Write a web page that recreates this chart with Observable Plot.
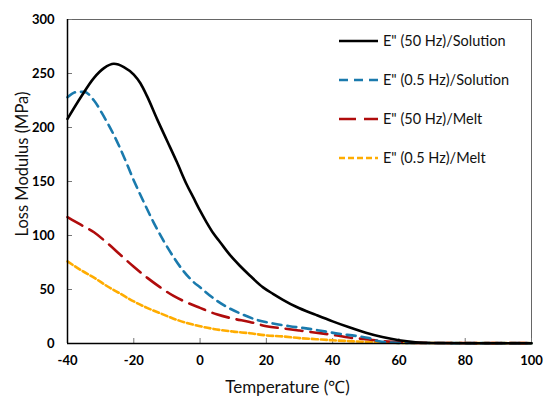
<!DOCTYPE html>
<html>
<head>
<meta charset="utf-8">
<script src="https://cdn.jsdelivr.net/npm/d3@7"></script>
<script src="https://cdn.jsdelivr.net/npm/@observablehq/plot@0.6"></script>
<style>
  body { margin: 0; background: #fff; }
  #wrap { position: relative; width: 544px; height: 400px; font-family: Lato, "Open Sans", sans-serif; }
  #legend { position: absolute; left: 339px; top: 21px; }
  .row { display: flex; align-items: center; height: 39px; font-size: 14.5px; color: #111; }
  .row svg { margin-right: 5px; }
  #ylab { position: absolute; left: 22px; top: 164px; transform: translate(-50%, -50%) rotate(-90deg);
          white-space: nowrap; font-size: 16.5px; color: #111; line-height: 1; }
</style>
</head>
<body>
<div id="wrap"></div>
<script>
// Temperature (°C) sample points per series and Loss Modulus (MPa) values
const blackT = [-40,-36,-32,-29,-26,-23,-20,-18,-16,-13,-10,-7,-4,-2,0,2,4,6,9,12,15,19,22,25,29,35,40,45,50,55,60,65,70,80,100];
const blackV = [208,228,246,255,259,256,249,241,229,208,188,168,147,135,123,112,102,94,82,72,63,52,46,40.5,34,26.5,20.5,15,10,6,3,1.2,0.5,0.3,0.2];

const blueT = [-40,-37,-35,-32,-29,-26,-23,-20,-17,-14,-11,-8,-5,-2,0,4,8,12,17,22,27,32,37,42,47,51,54,57,60,100];
const blueV = [228,233,233,225,210,193,173,151,131,112,95,80,67,57,52,42,34,28,22,18.5,16,14,11.5,9,7,5,2,1,0.5,0.3];

const redT = [-40,-36,-32,-28,-24,-20,-16,-12,-8,-4,0,5,10,15,20,25,30,35,40,45,50,55,60,70,100];
const redV = [117,110,103,93,82,71,61,52,44,38,33,27,23,20,16,14,12,10,8,5.5,4,2.3,1.2,0.5,0.3];

const yellowT = [-40,-36,-32,-28,-24,-20,-16,-12,-8,-4,0,5,10,15,20,25,30,35,40,45,50,55,60,100];
const yellowV = [76,68,61,53,46,39,33,28,23,19,16,13,11,9.5,7.5,6.5,5,4,3,2.2,1.5,1,0.6,0.3];

const seriesNames = ['E" (50 Hz)/Solution', 'E" (0.5 Hz)/Solution', 'E" (50 Hz)/Melt', 'E" (0.5 Hz)/Melt'];
const seriesColors = ["#000000", "#1a7aad", "#b00c0c", "#ffac00"];
const seriesDash = [null, "9,6", "17,8", "6,3"];

const xTicks = [-40,-20,0,20,40,60,80,100];
const yTicks = [0,50,100,150,200,250,300];
const xLabel = "Temperature (\u2103)";
const yLabel = "Loss Modulus (MPa)";

const seriesData = [[blackT, blackV], [blueT, blueV], [redT, redV], [yellowT, yellowV]]
  .map(([T, V], i) => T.map((t, j) => ({t, v: V[j], s: seriesNames[i]})));

const W = 544, H = 400, mT = 19, mB = 57, mL = 67, mR = 13;
const plotH = H - mT - mB, plotW = W - mL - mR;

const lines = seriesData.map((d, i) => Plot.line(d, {
  x: "t", y: "v", stroke: seriesColors[i], strokeWidth: 2.6,
  strokeDasharray: seriesDash[i], curve: "monotone-x"
}));

const chart = Plot.plot({
  width: W, height: H,
  marginTop: mT, marginBottom: mB, marginLeft: mL, marginRight: mR,
  style: {fontFamily: "Lato, 'Open Sans', sans-serif", background: "#fff"},
  x: {domain: [-40, 100], ticks: xTicks},
  y: {domain: [0, 300], ticks: yTicks},
  marks: [
    Plot.frame({stroke: "#666", strokeWidth: 1}),
    Plot.ruleX(xTicks, {x: d => d, insetTop: plotH - 5, stroke: "#777"}),
    Plot.ruleY(yTicks, {y: d => d, insetRight: plotW - 5, stroke: "#777"}),
    Plot.axisX({ticks: xTicks, tickSize: 0, tickPadding: 12, fontSize: 13, fontWeight: "bold", label: null, tickFormat: d => String(d)}),
    Plot.axisY({ticks: yTicks, tickSize: 0, tickPadding: 13, fontSize: 13, fontWeight: "bold", label: null}),
    ...lines.reverse(),
    Plot.ruleX([-40], {stroke: "#000", strokeWidth: 1.5}),
    Plot.ruleY([0], {stroke: "#000", strokeWidth: 1.5}),
    Plot.text([xLabel], {text: d => d, frameAnchor: "bottom", textAnchor: "middle", dx: -12, dy: 49, fontSize: 17, fill: "#111"})
  ]
});

const wrap = document.getElementById("wrap");
wrap.appendChild(chart);

const ylab = document.createElement("div");
ylab.id = "ylab";
ylab.textContent = yLabel;
wrap.appendChild(ylab);

const legend = document.createElement("div");
legend.id = "legend";
seriesNames.forEach((name, i) => {
  const row = document.createElement("div");
  row.className = "row";
  row.innerHTML = `<svg width="39" height="6"><line x1="0" y1="3" x2="39" y2="3" stroke="${seriesColors[i]}" stroke-width="2.6" ${seriesDash[i] ? `stroke-dasharray="${seriesDash[i]}"` : ""}/></svg><span>${name}</span>`;
  legend.appendChild(row);
});
wrap.appendChild(legend);
</script>
</body>
</html>
